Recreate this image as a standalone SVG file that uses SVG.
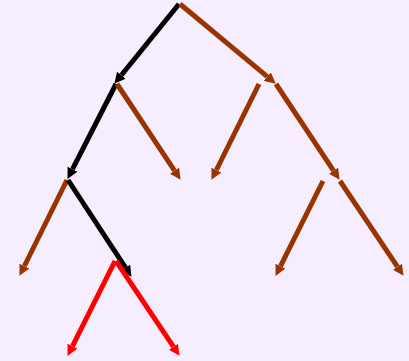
<svg xmlns="http://www.w3.org/2000/svg" width="409" height="361" viewBox="0 0 409 361">
<style>
.e{fill:none;stroke-width:5;stroke-linecap:butt}
.k{stroke:#000000;marker-end:url(#hk)}
.b{stroke:#993300;marker-end:url(#hb)}
.r{stroke:#FF0000;marker-end:url(#hr)}
</style>
<defs>
<marker id="hk" viewBox="0 0 10 10" refX="0" refY="5" markerWidth="11" markerHeight="11" markerUnits="userSpaceOnUse" orient="auto"><path d="M0,0 L10,5 L0,10 z" fill="#000000"/></marker>
<marker id="hb" viewBox="0 0 10 10" refX="0" refY="5" markerWidth="11" markerHeight="11" markerUnits="userSpaceOnUse" orient="auto"><path d="M0,0 L10,5 L0,10 z" fill="#993300"/></marker>
<marker id="hr" viewBox="0 0 10 10" refX="0" refY="5" markerWidth="11" markerHeight="11" markerUnits="userSpaceOnUse" orient="auto"><path d="M0,0 L10,5 L0,10 z" fill="#FF0000"/></marker>
</defs>
<rect x="0" y="0" width="409" height="361" fill="#F6EEFF"/>
<g id="connectors">
<line class="e k" x1="179" y1="4" x2="121.3" y2="75.2"/>
<line class="e b" x1="180" y1="4" x2="267.3" y2="76.6"/>
<line class="e k" x1="116" y1="84" x2="72.5" y2="169.1"/>
<line class="e b" x1="117" y1="84" x2="174.5" y2="170.7"/>
<line class="e b" x1="259" y1="84" x2="216.4" y2="170"/>
<line class="e b" x1="276" y1="84" x2="333.5" y2="170.7"/>
<line class="e b" x1="67" y1="180" x2="24.4" y2="266"/>
<line class="e k" x1="68" y1="180" x2="125.5" y2="267.6"/>
<line class="e b" x1="323" y1="181" x2="280.5" y2="266.1"/>
<line class="e b" x1="340" y1="181" x2="397.4" y2="266.7"/>
<line class="e r" x1="115" y1="261" x2="72.5" y2="346.1"/>
<line class="e r" x1="116" y1="261" x2="173.4" y2="346.7"/>
</g>
</svg>
